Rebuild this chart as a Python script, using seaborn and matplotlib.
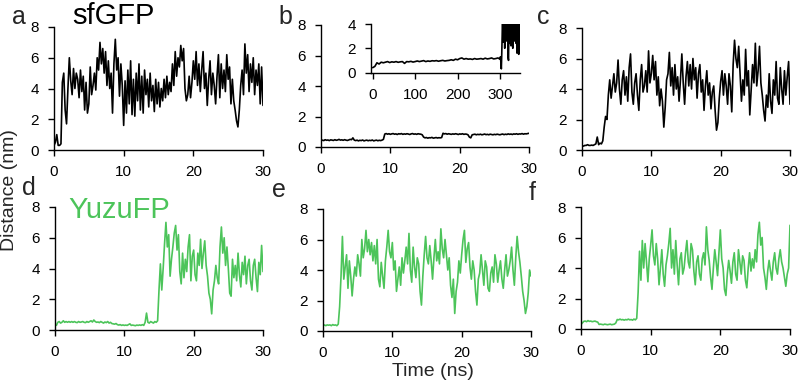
import numpy as np
import matplotlib
matplotlib.use("Agg")
import matplotlib.pyplot as plt
import seaborn as sns

# Style and colors
sns.set_style("ticks")
plt.rcParams['font.family'] = ['Liberation Sans', 'DejaVu Sans']
plt.rcParams.update({'xtick.major.size': 4, 'ytick.major.size': 4,
                     'xtick.major.pad': 7, 'ytick.major.pad': 7,
                     'axes.linewidth': 1.0})
black = '#000000'
green = '#4CC45A'

# Distance traces (nm), read every 0.2 ns from 0 to 30 ns
sfgfp_a = [
    0.3, 0.5, 1.0, 0.3, 0.3, 0.4, 4.4, 5.0, 2.6, 1.7,
    4.0, 6.0, 4.5, 3.6, 5.3, 4.0, 5.0, 4.6, 3.4, 5.2,
    3.8, 4.8, 2.6, 4.4, 2.4, 3.0, 5.4, 3.6, 4.2, 5.0,
    3.9, 6.0, 5.2, 7.0, 5.6, 6.6, 5.0, 6.4, 4.2, 5.8,
    4.0, 5.0, 2.4, 5.6, 7.2, 5.2, 6.0, 3.5, 5.6, 4.2,
    1.6, 4.5, 2.4, 5.2, 3.0, 5.8, 2.3, 4.6, 2.2, 5.0,
    3.2, 5.6, 2.6, 4.8, 2.4, 5.2, 3.6, 4.6, 2.8, 5.0,
    3.2, 4.2, 2.5, 4.6, 3.0, 4.4, 2.8, 4.0, 3.2, 4.6,
    3.4, 4.8, 3.6, 4.4, 3.8, 5.6, 4.2, 6.4, 4.8, 6.0,
    5.4, 6.8, 5.8, 6.6, 4.0, 3.2, 3.6, 4.8, 3.4, 4.4,
    5.8, 4.6, 6.4, 4.2, 5.6, 3.8, 5.2, 6.4, 4.0, 5.0,
    2.9, 4.6, 5.8, 3.6, 5.0, 4.2, 3.0, 4.8, 6.2, 3.4,
    5.6, 4.0, 5.2, 3.8, 6.2, 4.6, 5.4, 3.0, 4.6, 3.2,
    2.6, 1.9, 1.5, 2.6, 4.2, 5.2, 3.6, 6.9, 5.0, 6.2,
    3.8, 5.6, 4.4, 6.0, 3.6, 5.2, 4.2, 5.6, 3.0, 5.4,
    2.9,
]
sfgfp_b = (
    [0.4, 0.45, 0.42, 0.48, 0.44, 0.46, 0.42, 0.47, 0.45, 0.43, 0.48,
     0.44, 0.46, 0.5, 0.45, 0.47, 0.44, 0.48, 0.45, 0.43, 0.46, 0.5,
     0.48, 0.6, 0.45,
     0.42, 0.45, 0.4, 0.44, 0.42, 0.46, 0.4, 0.43, 0.45, 0.41,
     0.44, 0.42, 0.46, 0.4, 0.43, 0.45, 0.41, 0.44, 0.42, 0.45,
     0.5,
     0.85, 0.88, 0.84, 0.87, 0.83, 0.86, 0.88, 0.84, 0.86, 0.82,
     0.87, 0.85, 0.88, 0.83, 0.86, 0.84, 0.87, 0.85, 0.82, 0.86,
     0.88, 0.84, 0.86, 0.83, 0.87, 0.85, 0.84, 0.8,
     0.65,
     0.6, 0.62, 0.58, 0.61, 0.6, 0.63, 0.58, 0.6, 0.62, 0.59, 0.61, 0.6, 0.62,
     0.9,
     0.86, 0.88, 0.84, 0.87, 0.85, 0.83, 0.86, 0.84, 0.87, 0.85,
     0.82, 0.86, 0.84, 0.87, 0.83, 0.85, 0.84, 0.8,
     0.65, 0.6, 0.8,
     0.82, 0.84, 0.8, 0.83, 0.81, 0.84, 0.8, 0.82, 0.85, 0.81,
     0.83, 0.8, 0.84, 0.82, 0.8, 0.83, 0.81, 0.84, 0.82, 0.8,
     0.83, 0.85, 0.81, 0.84, 0.82, 0.86, 0.83, 0.85, 0.82, 0.86,
     0.84, 0.87, 0.83, 0.86, 0.85, 0.88, 0.84, 0.87, 0.86, 0.88,
     0.9]
)
sfgfp_c = [
    0.3, 0.25, 0.3, 0.3, 0.35, 0.3, 0.3, 0.32, 0.3, 0.35,
    0.4, 0.85, 0.35, 0.45, 0.4, 0.6, 1.5, 2.2, 2.0, 3.6,
    4.6, 3.4, 4.2, 5.0, 3.8, 4.4, 5.9, 4.0, 3.0, 4.6,
    5.2, 3.6, 4.8, 3.2, 5.4, 6.3, 3.8, 3.0, 4.4, 5.0,
    3.6, 2.6, 4.6, 5.6, 3.8, 4.2, 5.2, 3.8, 6.5, 4.4,
    5.0, 6.2, 4.6, 5.8, 3.6, 4.8, 2.9, 4.0, 3.2, 1.5,
    2.8, 4.6, 5.0, 6.4, 4.2, 5.4, 3.6, 5.6, 4.0, 4.8,
    3.2, 4.6, 6.3, 4.4, 3.0, 4.8, 5.8, 4.2, 5.6, 4.0,
    6.0, 4.6, 5.4, 3.4, 5.0, 5.6, 3.8, 4.6, 2.6, 4.2,
    5.2, 3.6, 4.4, 2.7, 3.8, 4.2, 2.6, 1.3, 1.8, 3.4,
    4.5, 5.2, 3.6, 5.0, 4.2, 3.0, 5.0, 4.2, 2.5, 5.6,
    7.2, 6.0, 5.4, 6.8, 5.0, 3.2, 4.6, 3.6, 6.6, 4.2,
    5.2, 2.3, 4.0, 5.6, 4.4, 7.0, 4.2, 5.2, 6.8, 4.4,
    3.6, 2.6, 1.9, 3.6, 2.8, 5.0, 3.2, 2.4, 4.6, 3.6,
    5.8, 3.4, 3.0, 5.4, 4.0, 3.0, 5.2, 3.6, 4.8, 5.8,
    3.0,
]
yuzu_d = [
    0.4, 0.3, 0.5, 0.55, 0.45, 0.5, 0.6, 0.5, 0.55, 0.5,
    0.55, 0.5, 0.55, 0.5, 0.55, 0.5, 0.48, 0.55, 0.5, 0.52,
    0.55, 0.5, 0.48, 0.55, 0.5, 0.55, 0.6, 0.52, 0.65, 0.55,
    0.5, 0.52, 0.48, 0.55, 0.5, 0.45, 0.52, 0.48, 0.55, 0.45,
    0.5, 0.42, 0.4, 0.38, 0.42, 0.35, 0.32, 0.35, 0.3, 0.33,
    0.3, 0.32, 0.3, 0.35, 0.4, 0.3, 0.32, 0.3, 0.28, 0.32,
    0.3, 0.33, 0.3, 0.35, 0.3, 0.5, 1.1, 0.5, 0.45, 0.55,
    0.5, 0.45, 0.55, 0.5, 0.6, 2.6, 4.3, 2.6, 4.0, 5.6,
    7.0, 5.4, 6.2, 3.5, 4.6, 5.4, 6.3, 6.8, 5.2, 6.2,
    3.8, 3.0, 5.0, 3.4, 4.6, 3.8, 5.4, 6.2, 3.2, 4.8,
    5.2, 3.6, 3.2, 5.0, 4.2, 5.9, 4.0, 5.0, 5.8, 4.2,
    3.5, 2.4, 2.0, 1.05, 2.6, 3.2, 4.2, 3.4, 3.0, 5.4,
    6.7, 5.0, 6.0, 4.2, 5.4, 4.0, 2.4, 2.2, 4.6, 3.4,
    4.2, 3.2, 5.0, 3.6, 2.8, 4.4, 3.6, 4.8, 3.0, 4.2,
    4.6, 3.2, 2.6, 4.2, 4.6, 3.4, 2.5, 4.4, 3.6, 5.5,
    3.8,
]
yuzu_e = [
    0.35, 0.4, 0.35, 0.4, 0.38, 0.4, 0.35, 0.42, 0.38, 0.4,
    0.35, 0.45, 1.6, 3.6, 6.2, 3.4, 4.2, 5.0, 2.8, 4.6,
    3.6, 2.3, 3.4, 4.2, 3.6, 5.0, 4.4, 3.6, 6.0, 4.8,
    5.4, 6.6, 5.2, 6.0, 5.0, 5.8, 4.6, 5.6, 4.4, 6.0,
    3.4, 2.9, 4.5, 3.6, 2.8, 4.6, 5.5, 6.6, 5.2, 4.8,
    5.8, 4.0, 4.6, 2.6, 3.4, 4.2, 3.0, 4.8, 3.8, 4.6,
    5.5, 4.4, 6.4, 4.0, 3.2, 5.5, 4.2, 3.5, 4.8, 4.4,
    2.6, 1.7, 3.6, 5.0, 6.2, 4.8, 4.4, 5.6, 4.6, 3.4,
    4.8, 6.0, 4.6, 5.2, 4.4, 6.7, 5.4, 4.8, 6.0, 5.0,
    4.0, 4.8, 3.0, 2.2, 3.4, 1.15, 2.6, 3.2, 4.6, 3.8,
    5.0, 6.0, 6.6, 4.5, 5.4, 5.8, 4.2, 3.4, 4.6, 4.0,
    2.6, 1.7, 3.4, 3.8, 5.0, 4.0, 3.0, 4.6, 4.2, 2.8,
    2.6, 3.8, 4.2, 3.2, 5.0, 4.4, 3.2, 4.0, 4.6, 3.4,
    2.8, 4.0, 5.0, 3.6, 4.0, 4.6, 5.5, 4.0, 3.0, 4.8,
    6.2, 5.2, 4.5, 3.6, 2.6, 2.0, 1.15, 1.6, 2.5, 4.0,
    3.6,
]
yuzu_f = [
    0.3, 0.4, 0.5, 0.52, 0.48, 0.55, 0.5, 0.52, 0.48, 0.5,
    0.52, 0.48, 0.45, 0.3, 0.32, 0.3, 0.28, 0.32, 0.3, 0.28,
    0.3, 0.32, 0.28, 0.3, 0.32, 0.4, 0.62, 0.6, 0.65, 0.6,
    0.62, 0.58, 0.62, 0.6, 0.65, 0.6, 0.62, 0.58, 0.65, 0.6,
    0.7, 2.4, 5.1, 3.2, 5.8, 4.0, 5.6, 4.4, 3.1, 4.6,
    5.5, 6.5, 4.8, 4.2, 5.6, 4.6, 2.9, 4.0, 5.2, 3.6,
    2.8, 4.2, 4.8, 5.6, 6.6, 4.0, 5.2, 3.6, 5.8, 4.2,
    2.9, 4.6, 5.0, 3.6, 4.0, 5.0, 5.8, 4.4, 4.0, 5.6,
    5.2, 3.8, 2.9, 4.4, 4.8, 3.6, 3.2, 4.6, 5.0, 4.2,
    6.7, 5.2, 4.5, 3.4, 2.6, 4.0, 5.2, 4.4, 3.5, 5.0,
    6.5, 4.6, 4.0, 2.6, 2.2, 3.6, 4.5, 3.8, 3.0, 4.4,
    5.0, 3.6, 3.2, 5.2, 4.4, 3.6, 4.8, 4.5, 3.2, 2.7,
    4.0, 5.0, 3.8, 4.6, 4.0, 5.2, 4.4, 6.2, 7.0, 5.5,
    6.0, 4.0, 3.4, 2.6, 3.8, 4.5, 3.8, 3.2, 4.4, 5.0,
    4.0, 3.6, 4.6, 5.2, 4.4, 4.0, 3.4, 2.8, 3.6, 4.0,
    6.8,
]

# Inset of b: long run, every 5 ns up to 300 ns, then every 1 ns
inset_early = [
    0.4, 0.5, 0.8, 0.7, 0.85, 0.8, 0.85, 0.9, 0.82, 0.88,
    0.85, 0.9, 0.84, 0.88, 0.9, 0.75, 0.9, 0.88, 0.92, 0.86,
    0.9, 0.95, 0.9, 0.94, 0.98, 0.9, 0.95, 0.92, 0.97, 0.95,
    0.98, 0.93, 0.97, 1.0, 0.95, 0.98, 1.0, 1.05, 1.0, 1.1,
    1.05, 1.15, 1.2, 1.1, 1.15, 1.1, 1.12, 1.08, 1.15, 1.1,
    1.12, 1.15, 1.1, 1.18, 1.12, 1.15, 1.2, 1.12, 1.15, 1.2,
    1.1,
]
inset_late = [
    1.3, 0.8, 0.3, 1.5, 3.0, 5.0, 2.5, 6.0, 3.2, 5.5,
    2.0, 6.0, 3.5, 5.0, 2.6, 6.0, 3.0, 5.5, 1.2, 1.0,
    4.5, 2.4, 6.0, 3.0, 5.0, 2.2, 6.0, 3.6, 5.5, 2.0,
    6.0, 3.4, 5.0, 2.6, 6.0, 3.2, 5.5, 2.4, 6.0, 1.6,
    5.0, 2.8, 6.0, 1.5, 5.0, 2.0, 4.5,
]

W, H = 800, 384


def add_panel(fig, box, x, y, color, xlim, xticks, ylim, yticks):
    # box = (left, top, right, bottom) in pixels
    l, t, r, b = box
    ax = fig.add_axes([l / W, 1 - b / H, (r - l) / W, (b - t) / H])
    sns.lineplot(x=x, y=y, ax=ax, color=color, linewidth=1.2)
    ax.set_xlim(*xlim)
    ax.set_ylim(*ylim)
    ax.set_xticks(xticks)
    ax.set_yticks(yticks)
    ax.tick_params(labelsize=11, colors='black', width=1.0)
    for s in ['top', 'right']:
        ax.spines[s].set_visible(False)
    for s in ['left', 'bottom']:
        ax.spines[s].set_color('black')
    ax.set_xlabel("")
    ax.set_ylabel("")
    return ax


fig = plt.figure(figsize=(W / 100, H / 100), dpi=100)

t30 = lambda v: np.linspace(0, 30, len(v))
xt = [0, 10, 20, 30]
yt = [0, 2, 4, 6, 8]

add_panel(fig, (54, 27, 263, 150), t30(sfgfp_a), sfgfp_a, black, (0, 30), xt, (0, 8), yt)
add_panel(fig, (321, 25, 529, 147), t30(sfgfp_b), sfgfp_b, black, (0, 30), xt, (0, 8), yt)
add_panel(fig, (582, 28, 790, 150), t30(sfgfp_c), sfgfp_c, black, (0, 30), xt, (0, 8), yt)
add_panel(fig, (55, 207, 263, 330), t30(yuzu_d), yuzu_d, green, (0, 30), xt, (0, 8), yt)
add_panel(fig, (323, 209, 531, 331), t30(yuzu_e), yuzu_e, green, (0, 30), xt, (0, 8), yt)
add_panel(fig, (581, 207, 790, 329), t30(yuzu_f), yuzu_f, green, (0, 30), xt, (0, 8), yt)

# Inset in panel b
inset_t = np.concatenate([np.linspace(0, 300, len(inset_early)),
                          np.arange(301, 301 + len(inset_late))])
inset_d = np.concatenate([inset_early, inset_late])
ins = add_panel(fig, (371, 24, 520, 72.5), inset_t, inset_d, black,
                (-4, 347), [0, 100, 200, 300], (0, 4), [0, 2, 4])
ins.patch.set_alpha(0)

# Panel letters and titles
for txt, px, py in [("a", 12, 24.5), ("b", 278, 24), ("c", 537, 23.5),
                    ("d", 22, 195), ("e", 272, 197), ("f", 529, 200)]:
    fig.text(px / W, 1 - py / H, txt, fontsize=18, ha='left', va='baseline')

fig.text(72 / W, 1 - 24 / H, "sfGFP", fontsize=21, ha='left', va='baseline', color=black)
fig.text(68 / W, 1 - 217.5 / H, "YuzuFP", fontsize=21, ha='left', va='baseline', color=green)

fig.text(10 / W, 1 - 190 / H, "Distance (nm)", fontsize=14, rotation=90,
         ha='center', va='center')
fig.text(433 / W, 1 - 372 / H, "Time (ns)", fontsize=14, ha='center', va='center')

fig.savefig("out.png", dpi=100)
